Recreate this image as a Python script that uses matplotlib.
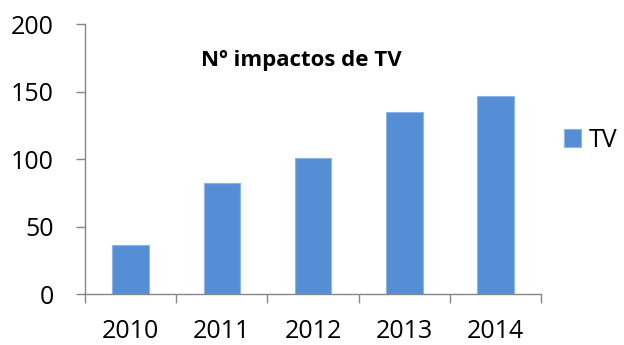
import matplotlib
matplotlib.use('Agg')
import matplotlib.pyplot as plt
import numpy as np

# Nº de impactos de TV por año
years = ['2010', '2011', '2012', '2013', '2014']
tv = [36, 82, 101, 135, 147]

plt.rcParams['font.family'] = ['Open Sans', 'DejaVu Sans']

def main():
	fig = plt.figure(figsize=(6.24, 3.45), dpi=100)
	ax = fig.add_axes([0.1362, 0.1478, 0.731, 0.7826])

	x = np.arange(len(years))
	ax.bar(x, tv, width=0.4, color='#558ED5', edgecolor='#8DB4E2', linewidth=0.8, label='TV')

	ax.set_xlim(-0.5, len(years) - 0.5)
	ax.set_ylim(0, 200)
	ax.set_yticks([0, 50, 100, 150, 200])

	# category labels without marks; marks sit between categories
	ax.set_xticks(x)
	ax.set_xticklabels(years)
	ax.set_xticks(np.arange(-0.5, len(years)), minor=True)
	ax.tick_params(axis='x', which='major', length=0, pad=18, labelsize=18)
	ax.tick_params(axis='x', which='minor', length=6.5, width=1, color='#868686', direction='out')
	ax.tick_params(axis='y', length=6.5, width=1, color='#868686', pad=16, labelsize=18)
	for lbl in ax.get_yticklabels():
		lbl.set_y(lbl.get_position()[1])
		lbl.set_va('center_baseline')

	for side in ['top', 'right']:
		ax.spines[side].set_visible(False)
	for side in ['left', 'bottom']:
		ax.spines[side].set_color('#868686')
		ax.spines[side].set_linewidth(1)

	fig.text(0.483, 0.826, 'Nº impactos de TV', ha='center', va='center',
			 fontsize=16, fontweight='bold')

	ax.legend(loc='center left', bbox_to_anchor=(1.05, 0.57), frameon=False,
			  fontsize=18, handlelength=0.7, handleheight=0.7, handletextpad=0.3,
			  borderpad=0, borderaxespad=0)

	fig.savefig('out.png', dpi=100)
	return

if __name__ == '__main__':
	main()
